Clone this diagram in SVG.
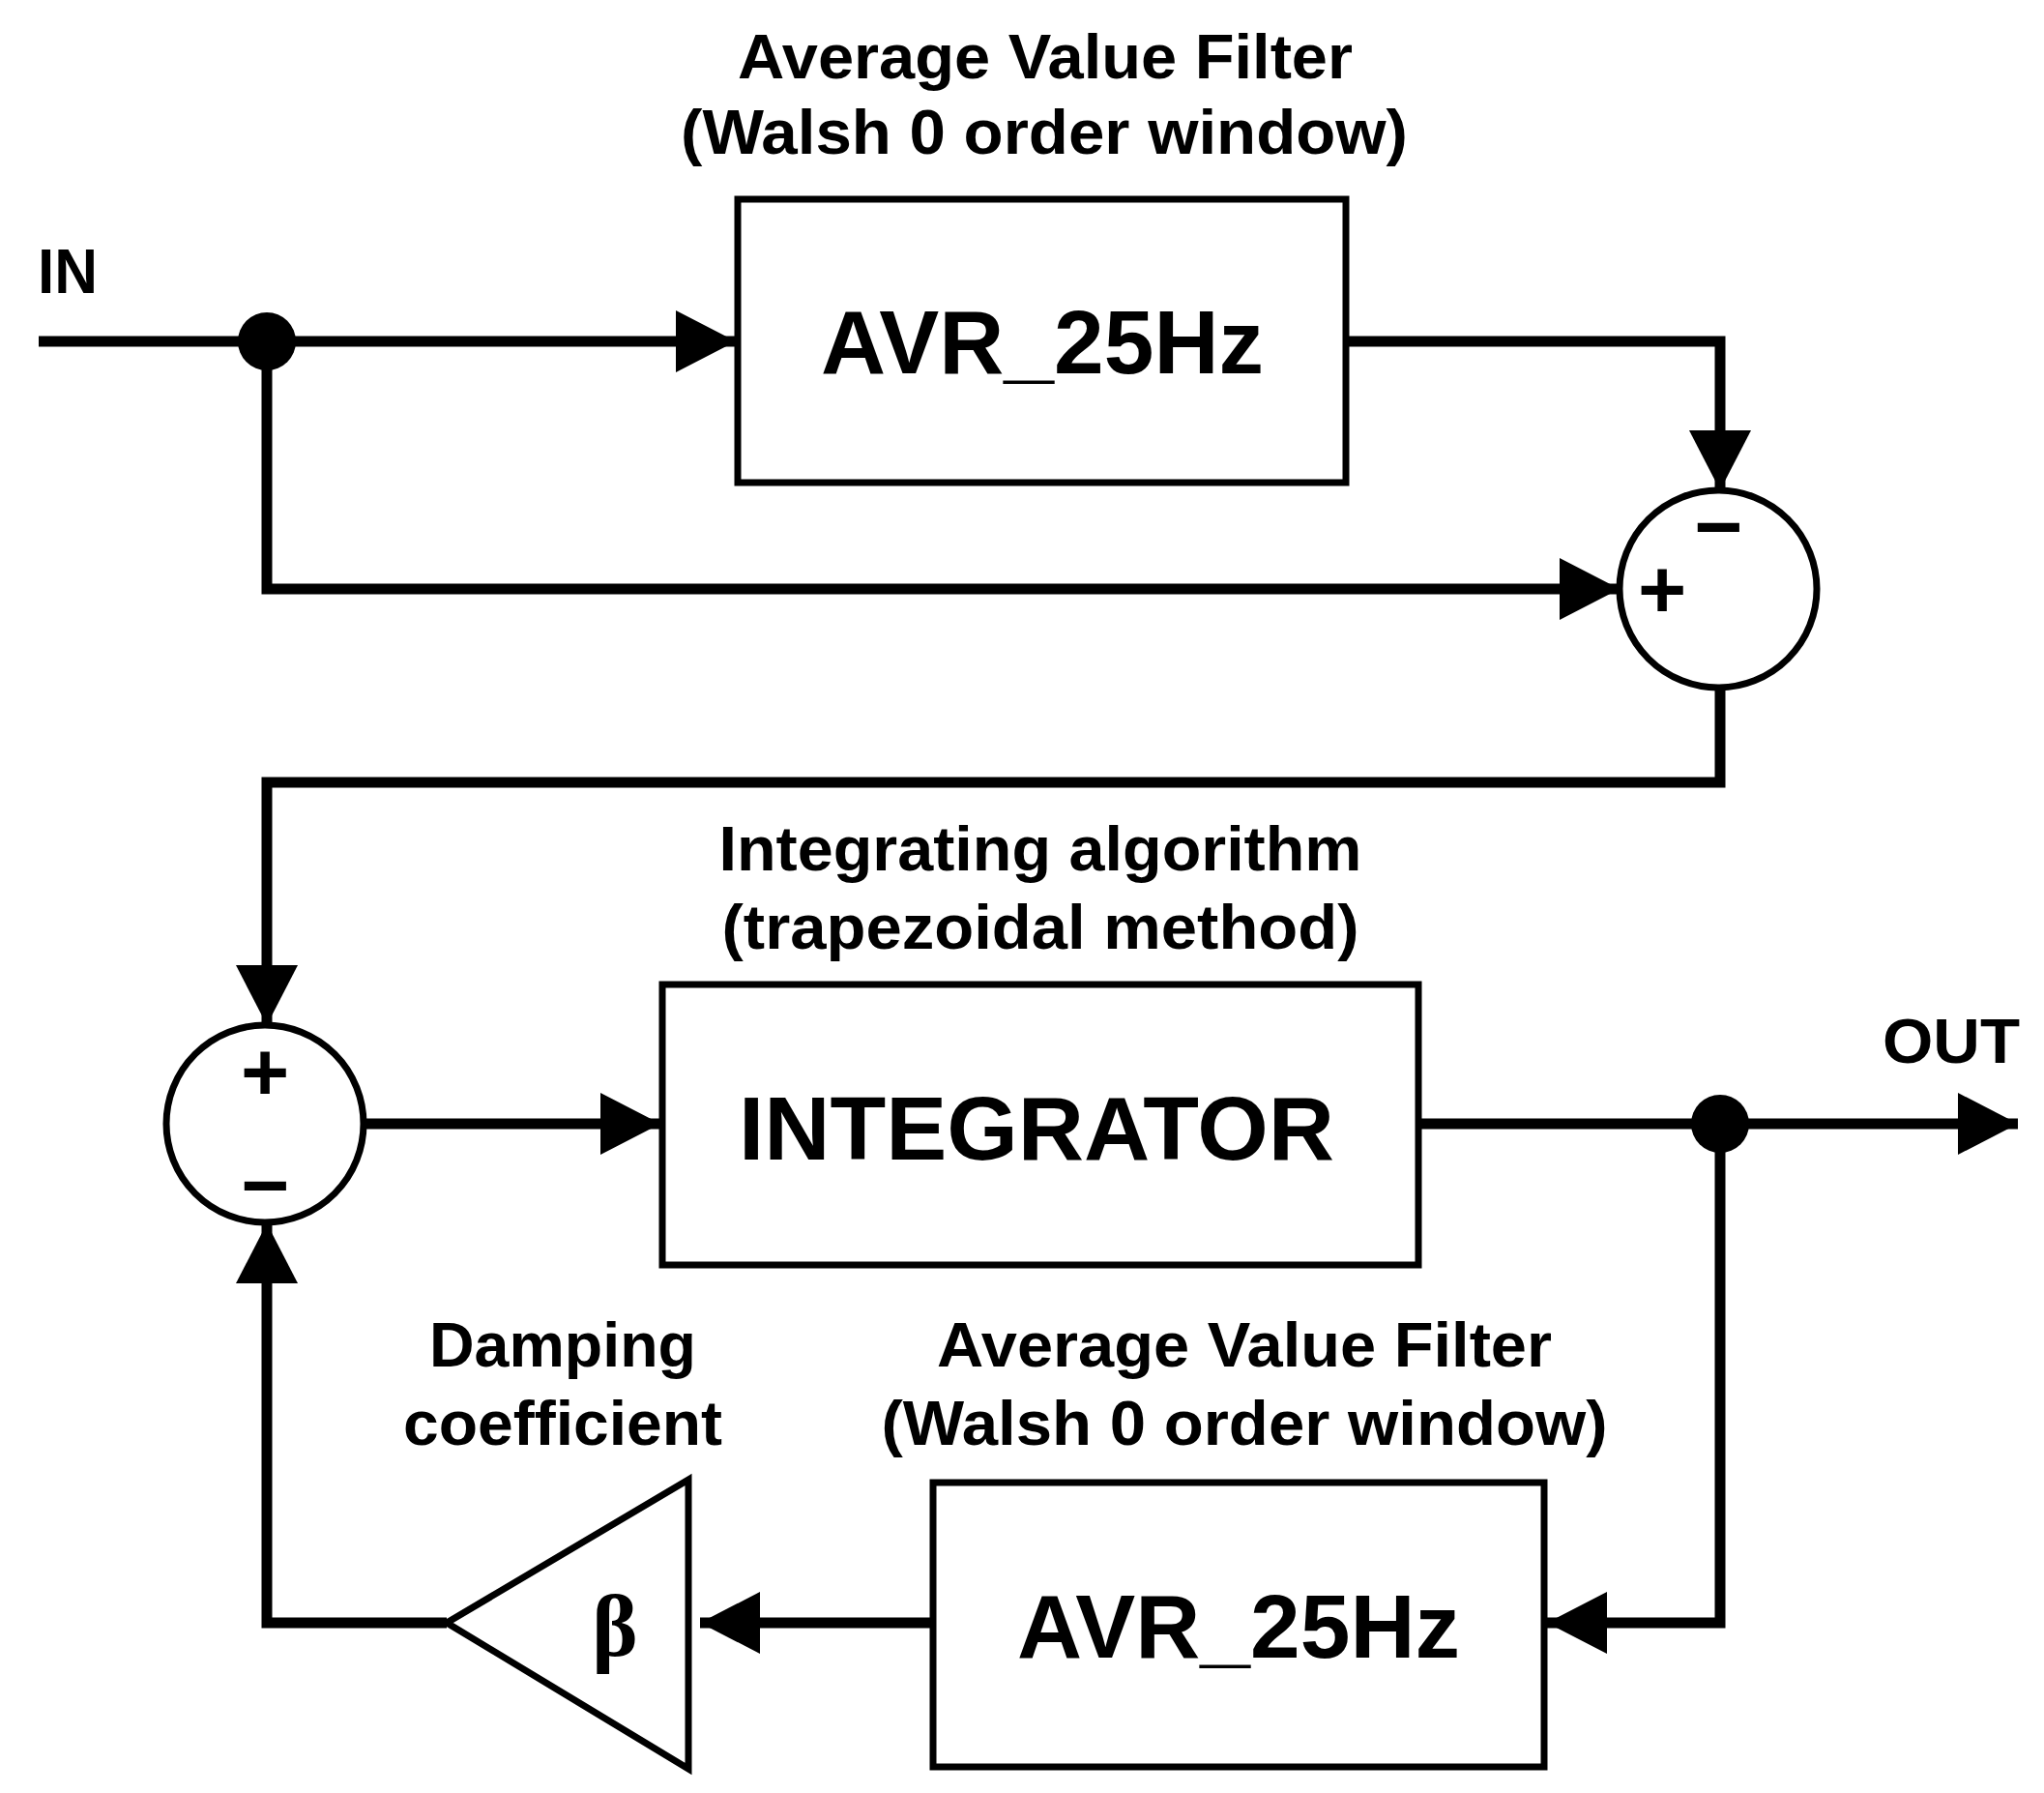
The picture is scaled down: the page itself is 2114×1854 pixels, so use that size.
<svg xmlns="http://www.w3.org/2000/svg" width="2114" height="1854" viewBox="0 0 2114 1854">
<defs>
<marker id="ah" markerUnits="userSpaceOnUse" markerWidth="62" markerHeight="64" viewBox="0 0 62 64" refX="62" refY="32" orient="auto"><path d="M0,0 L62,32 L0,64 Z" fill="#000"/></marker>
</defs>
<style>
.w{fill:none;stroke:#000;stroke-width:11}
.b{fill:#fff;stroke:#000;stroke-width:7}
.t{font-family:"Liberation Sans",Arial,sans-serif;font-weight:bold;fill:#000;text-anchor:middle}
.l{font-size:64px}
.big{font-size:92px}
.s{font-size:86px}
</style>
<rect width="2114" height="1854" fill="#fff"/>
<g id="connectors">
<path class="w" d="M40,353 H761" marker-end="url(#ah)"/>
<path class="w" d="M276,353 V609 H1675" marker-end="url(#ah)"/>
<path class="w" d="M1392,353 H1779 V507" marker-end="url(#ah)"/>
<path class="w" d="M1779,711 V809 H276 V1060" marker-end="url(#ah)"/>
<path class="w" d="M376,1162 H683" marker-end="url(#ah)"/>
<path class="w" d="M1467,1162 H2087" marker-end="url(#ah)"/>
<path class="w" d="M1779,1162 V1678 H1600" marker-end="url(#ah)"/>
<path class="w" d="M965,1678 H724" marker-end="url(#ah)"/>
<path class="w" d="M462,1678 H276 V1265" marker-end="url(#ah)"/>
<circle cx="276" cy="353" r="30" fill="#000"/>
<circle cx="1779" cy="1162" r="30" fill="#000"/>
</g>
<g id="in"><text class="t l" x="70" y="303" textLength="62" lengthAdjust="spacingAndGlyphs">IN</text></g>
<g id="out"><text class="t l" x="2018" y="1099" textLength="142" lengthAdjust="spacingAndGlyphs">OUT</text></g>
<g id="avr1">
<rect class="b" x="763" y="206" width="629" height="293"/>
<text class="t big" x="1078" y="386" textLength="458" lengthAdjust="spacingAndGlyphs">AVR_25Hz</text>
<text class="t l" x="1081" y="81" textLength="636" lengthAdjust="spacingAndGlyphs">Average Value Filter</text>
<text class="t l" x="1080" y="159" textLength="752" lengthAdjust="spacingAndGlyphs">(Walsh 0 order window)</text>
</g>
<g id="sum1">
<circle class="b" cx="1777" cy="609" r="102"/>
<text class="t s" x="1719" y="639">+</text>
<text class="t s" x="1777" y="574">−</text>
</g>
<g id="sum2">
<circle class="b" cx="274" cy="1162" r="102"/>
<text class="t s" x="274" y="1138">+</text>
<text class="t s" x="274" y="1255">−</text>
</g>
<g id="integrator">
<rect class="b" x="685" y="1018" width="782" height="290"/>
<text class="t big" x="1072" y="1199" textLength="616" lengthAdjust="spacingAndGlyphs">INTEGRATOR</text>
<text class="t l" x="1076" y="900" textLength="665" lengthAdjust="spacingAndGlyphs">Integrating algorithm</text>
<text class="t l" x="1076" y="981" textLength="659" lengthAdjust="spacingAndGlyphs">(trapezoidal method)</text>
</g>
<g id="avr2">
<rect class="b" x="965" y="1533" width="632" height="294"/>
<text class="t big" x="1281" y="1714" textLength="458" lengthAdjust="spacingAndGlyphs">AVR_25Hz</text>
<text class="t l" x="1287" y="1413" textLength="636" lengthAdjust="spacingAndGlyphs">Average Value Filter</text>
<text class="t l" x="1287" y="1494" textLength="751" lengthAdjust="spacingAndGlyphs">(Walsh 0 order window)</text>
</g>
<g id="gain">
<path class="b" d="M462,1678 L712,1530 L712,1829 Z"/>
<text x="636" y="1712" font-family="Liberation Serif,serif" font-size="90" font-weight="bold" text-anchor="middle">β</text>
<text class="t l" x="582" y="1413" textLength="276" lengthAdjust="spacingAndGlyphs">Damping</text>
<text class="t l" x="582" y="1494" textLength="330" lengthAdjust="spacingAndGlyphs">coefficient</text>
</g>
</svg>
